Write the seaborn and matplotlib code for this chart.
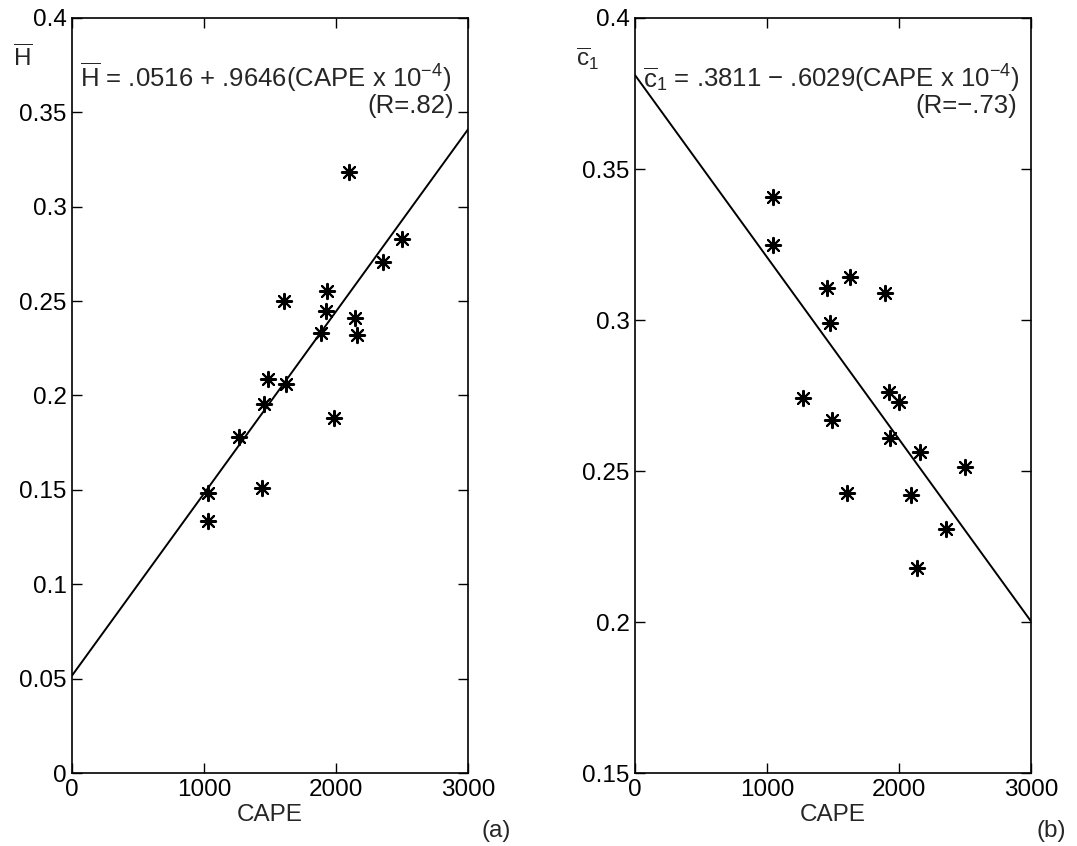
import numpy as np
import pandas as pd
import matplotlib
matplotlib.use("Agg")
import matplotlib.pyplot as plt
import seaborn as sns

# Panel (a): normalized height H-bar vs CAPE
cape_a = [2101, 2497, 2359, 1929, 1606, 1922, 2141, 2159, 1886,
          1482, 1621, 1457, 1985, 1268, 1437, 1033, 1033]
hbar = [0.3186, 0.2828, 0.2709, 0.2555, 0.2502, 0.2449, 0.2409, 0.2320, 0.2333,
        0.2086, 0.2059, 0.1953, 0.1879, 0.1782, 0.1512, 0.1482, 0.1335]

# Panel (b): c1-bar vs CAPE
cape_b = [1048, 1048, 1629, 1452, 1894, 1477, 1927, 1275, 1998,
          1492, 1932, 2160, 2500, 1604, 2094, 2356, 2135]
c1bar = [0.3408, 0.3248, 0.3141, 0.3105, 0.3090, 0.2991, 0.2761, 0.2741, 0.2727,
         0.2669, 0.2608, 0.2564, 0.2514, 0.2428, 0.2421, 0.2308, 0.2180]

# Regression coefficients (intercept, slope per 1e4 CAPE)
fit_a = (0.0516, 0.9646)
fit_b = (0.3811, -0.6029)
r_a = ".82"
r_b = "\u2212.73"

x_ticks = [0, 1000, 2000, 3000]
y_ticks_a = [0, 0.05, 0.1, 0.15, 0.2, 0.25, 0.3, 0.35, 0.4]
y_labels_a = ["0", "0.05", "0.1", "0.15", "0.2", "0.25", "0.3", "0.35", "0.4"]
y_ticks_b = [0.15, 0.2, 0.25, 0.3, 0.35, 0.4]
y_labels_b = ["0.15", "0.2", "0.25", "0.3", "0.35", "0.4"]

sns.set_style("ticks")
plt.rcParams["font.family"] = ["Liberation Sans", "DejaVu Sans"]
plt.rcParams["mathtext.fontset"] = "custom"
plt.rcParams["mathtext.rm"] = "Liberation Sans"
plt.rcParams["mathtext.it"] = "Liberation Sans:italic"
plt.rcParams["mathtext.default"] = "rm"

FS = 17.5
FS_EQ = 18.5
W, H = 1077, 846
fig = plt.figure(figsize=(W / 100, H / 100), dpi=100)
ax_a = fig.add_axes([72 / W, 1 - 773 / H, 396 / W, 755 / H])
ax_b = fig.add_axes([635 / W, 1 - 773 / H, 396 / W, 755 / H])

star = (8, 2, 0)


def draw_panel(ax, cape, vals, fit, ylim, yticks, ylabels):
    df = pd.DataFrame({"CAPE": cape, "val": vals})
    sns.scatterplot(data=df, x="CAPE", y="val", ax=ax, marker=star, s=120,
                    color="black", edgecolor="black", linewidth=1.5, zorder=3)
    line_x = np.array([0.0, 3000.0])
    line_df = pd.DataFrame({"CAPE": line_x, "fit": fit[0] + fit[1] * 1e-4 * line_x})
    sns.lineplot(data=line_df, x="CAPE", y="fit", ax=ax, color="black", linewidth=1.4)
    ax.set_xlim(0, 3000)
    ax.set_ylim(*ylim)
    ax.set_xticks(x_ticks)
    ax.set_xticklabels([str(t) for t in x_ticks])
    ax.set_yticks(yticks)
    ax.set_yticklabels(ylabels)
    ax.tick_params(direction="in", top=True, right=True, length=7, width=1,
                   labelsize=FS, pad=4, colors="black")
    for sp in ax.spines.values():
        sp.set_visible(True)
        sp.set_linewidth(1.2)
        sp.set_color("black")
    ax.set_ylabel("")
    ax.set_xlabel("")
    ax.text(0.5, -0.056, "CAPE", transform=ax.transAxes, fontsize=FS,
            ha="center", va="center")


draw_panel(ax_a, cape_a, hbar, fit_a, (0, 0.4), y_ticks_a, y_labels_a)
draw_panel(ax_b, cape_b, c1bar, fit_b, (0.15, 0.4), y_ticks_b, y_labels_b)

# Equations and correlation coefficients
ax_a.text(0.02, 0.908,
          r"$\overline{\mathrm{H}}$ = .0516 + .9646(CAPE x 10$^{-4}$)",
          transform=ax_a.transAxes, fontsize=FS_EQ, ha="left", va="baseline")
ax_a.text(0.965, 0.874, f"(R={r_a})", transform=ax_a.transAxes,
          fontsize=FS_EQ, ha="right", va="baseline")
ax_b.text(0.02, 0.908,
          r"$\overline{\mathrm{c}}_1$ = .3811 $-$ .6029(CAPE x 10$^{-4}$)",
          transform=ax_b.transAxes, fontsize=FS_EQ, ha="left", va="baseline")
ax_b.text(0.965, 0.874, f"(R={r_b})", transform=ax_b.transAxes,
          fontsize=FS_EQ, ha="right", va="baseline")

# Horizontal y-axis labels at the top-left corner
ax_a.text(-0.125, 0.946, r"$\overline{\mathrm{H}}$", transform=ax_a.transAxes,
          fontsize=FS, ha="center", va="center")
ax_b.text(-0.12, 0.946, r"$\overline{\mathrm{c}}_1$", transform=ax_b.transAxes,
          fontsize=FS, ha="center", va="center")

# Panel letters
ax_a.text(1.07, -0.077, "(a)", transform=ax_a.transAxes, fontsize=FS,
          ha="center", va="center")
ax_b.text(1.05, -0.077, "(b)", transform=ax_b.transAxes, fontsize=FS,
          ha="center", va="center")

fig.savefig("out.png", dpi=100, facecolor="white")
